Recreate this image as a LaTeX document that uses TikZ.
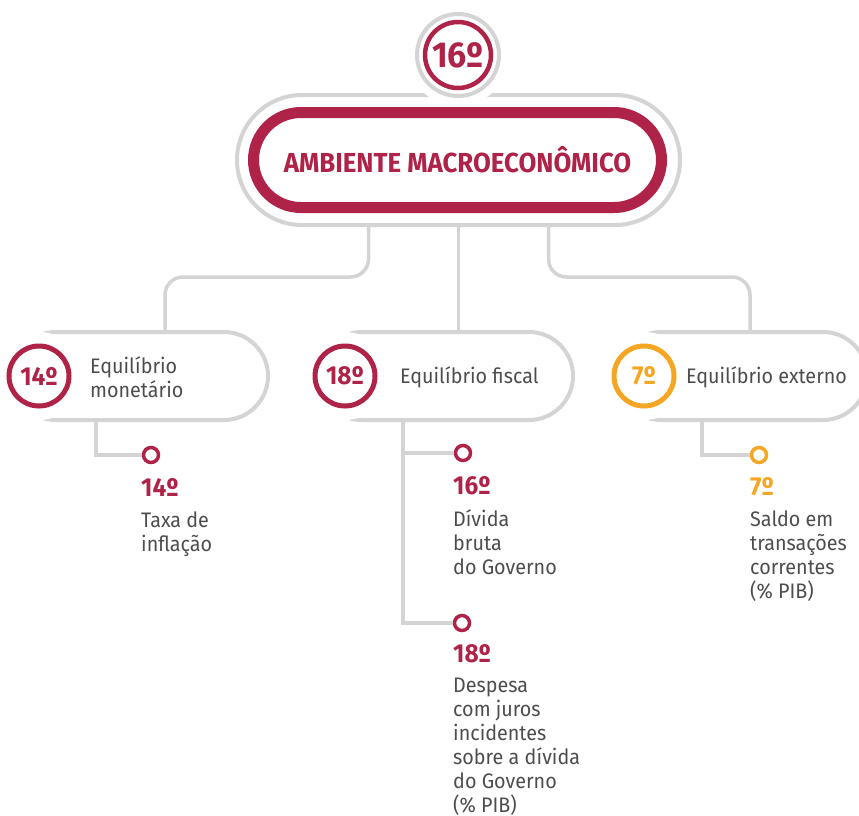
\documentclass[tikz,border=0pt]{standalone}
\usepackage{fontspec}
\setmainfont{Fira Sans}[FakeStretch=0.94]
\usetikzlibrary{positioning,shapes.misc}

\definecolor{weinrot}{RGB}{176,35,72}
\definecolor{gelborange}{RGB}{245,166,35}
\definecolor{hellgrau}{RGB}{212,212,212}
\definecolor{textgrau}{RGB}{77,77,77}

\tikzset{
  kapsel/.style={rounded rectangle, draw=hellgrau, line width=4pt, fill=white, minimum height=88pt, inner sep=0pt},
  verbinder/.style={draw=hellgrau, line width=3.5pt},
  halo/.style={preaction={draw=white, line width=#1}},
  abzeichen/.style={circle, draw=#1, line width=5pt, fill=white, minimum size=60pt, inner sep=0pt, text=#1, font=\bfseries\fontsize{26}{26}\selectfont},
  punkt/.style={circle, draw=#1, line width=3.5pt, fill=white, minimum size=15pt, inner sep=0pt},
  rang/.style={text=#1, font=\bfseries\fontsize{26}{26}\selectfont, inner sep=0pt, anchor=base west},
  beschriftung/.style={text=textgrau, font=\fontsize{21}{24}\selectfont, align=left, inner sep=0pt, anchor=north west},
}

\begin{document}
\begin{tikzpicture}[x=1pt,y=-1pt]
    \useasboundingbox (0,0) rectangle (859,815);

    % Hauptknoten
    \node[kapsel, minimum width=443pt, minimum height=130pt] (huelle) at (458.5,160) {};
    \node[rounded rectangle, draw=weinrot, line width=11pt, minimum width=408pt, minimum height=95pt, inner sep=0pt,
          text=weinrot, font=\bfseries\fontsize{27.5}{30}\selectfont] (titel) at (457.5,160) {AMBIENTE MACROECONÔMICO};

    % Kreis oben
    \node[circle, draw=hellgrau, line width=4pt, fill=white, minimum size=82pt, halo=20pt] (kopf) at (458,55) {};
    \node[abzeichen=weinrot, minimum size=66pt, line width=4.5pt, font=\bfseries\fontsize{36}{36}\selectfont] (k16) at (kopf) {16º};

    % Teilbereiche
    \node[kapsel, minimum width=256pt] (monetaer) at (140,376) {};
    \node[kapsel, minimum width=255pt] (fiskal) at (445.5,376) {};
    \node[kapsel, minimum width=250pt] (extern) at (742,376) {};

    % Verbindungen nach unten
    \draw[verbinder, rounded corners=18pt] ([xshift=-90pt]huelle.south) |- ([xshift=25pt,yshift=53pt]monetaer.north) -- ([xshift=25pt]monetaer.north);
    \draw[verbinder] (huelle.south) -- (huelle.south |- fiskal.north);
    \draw[verbinder, rounded corners=18pt] ([xshift=90pt]huelle.south) |- ([xshift=8pt,yshift=53pt]extern.north) -- ([xshift=8pt]extern.north);

    \node[abzeichen=weinrot, halo=28pt] (b14) at ([xshift=29pt]monetaer.west) {14º};
    \node[abzeichen=weinrot, halo=28pt] (b18) at ([xshift=29pt]fiskal.west) {18º};
    \node[abzeichen=gelborange, halo=28pt] (b7) at ([xshift=29pt]extern.west) {7º};

    \node[beschriftung, anchor=west] (n14) at (90,377) {Equilíbrio\\monetário};
    \node[beschriftung, anchor=west] (n18) at (400,377) {Equilíbrio fiscal};
    \node[beschriftung, anchor=west] (n7) at (686,377) {Equilíbrio externo};

    % Indikatoren
    \coordinate (mstamm) at ([xshift=-44pt]monetaer.south);
    \coordinate (fstamm) at ([xshift=-42.5pt]fiskal.south);
    \coordinate (estamm) at ([xshift=-40pt]extern.south);

    \node[punkt=weinrot] (p14) at (151,455) {};
    \node[punkt=weinrot] (p16) at (463,453) {};
    \node[punkt=weinrot] (p18) at (462,623) {};
    \node[punkt=gelborange] (p7) at (759,455) {};

    \draw[verbinder] (mstamm) |- (p14.west);
    \draw[verbinder] (fstamm) |- (p18.west);
    \draw[verbinder] (fstamm |- p16.west) -- (p16.west);
    \draw[verbinder] (estamm) |- (p7.west);

    \node[rang=weinrot] (r14) at (141,496) {14º};
    \node[beschriftung, below=15pt of r14.south west, anchor=north west] (t14) {Taxa de\\inflação};

    \node[rang=weinrot] (r16) at (453,494) {16º};
    \node[beschriftung, below=15pt of r16.south west, anchor=north west] (t16) {Dívida\\bruta\\do Governo};

    \node[rang=weinrot] (r18) at (453,662) {18º};
    \node[beschriftung, below=15pt of r18.south west, anchor=north west] (t18) {Despesa\\com juros\\incidentes\\sobre a dívida\\do Governo\\(\% PIB)};

    \node[rang=gelborange] (r7) at (750,495) {7º};
    \node[beschriftung, below=15pt of r7.south west, anchor=north west] (t7) {Saldo em\\transações\\correntes\\(\% PIB)};
\end{tikzpicture}
\end{document}
